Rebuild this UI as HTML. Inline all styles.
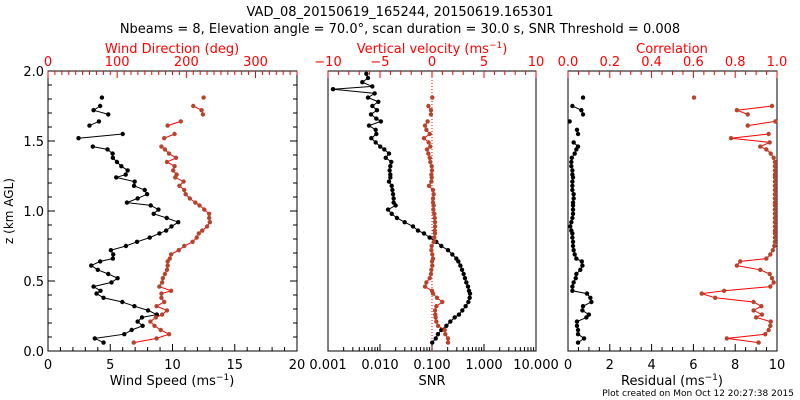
<!DOCTYPE html>
<html><head><meta charset="utf-8">
<style>
html,body{margin:0;padding:0;background:#fff;}
svg{display:block;font-family:"DejaVu Sans","Liberation Sans",sans-serif;}
</style></head>
<body>
<svg id="chart" width="800" height="400" viewBox="0 0 800 400" xmlns="http://www.w3.org/2000/svg">
<text x="400" y="16" font-size="13" text-anchor="middle">VAD_08_20150619_165244, 20150619.165301</text>
<text x="400" y="33" font-size="13" text-anchor="middle">Nbeams = 8, Elevation angle = 70.0°, scan duration = 30.0 s, SNR Threshold = 0.008</text>
<text transform="translate(13,211) rotate(-90)" font-size="12" text-anchor="middle">z (km AGL)</text>
<text x="172" y="53" font-size="13" fill="#f00" text-anchor="middle">Wind Direction (deg)</text>
<text x="432" y="53" font-size="13" fill="#f00" text-anchor="middle">Vertical velocity (ms<tspan font-size="9" dy="-5">−1</tspan><tspan dy="5">)</tspan></text>
<text x="672" y="53" font-size="13" fill="#f00" text-anchor="middle">Correlation</text>
<text x="172" y="385" font-size="13" text-anchor="middle">Wind Speed (ms<tspan font-size="9" dy="-5">−1</tspan><tspan dy="5">)</tspan></text>
<text x="432" y="385" font-size="13" text-anchor="middle">SNR</text>
<text x="672" y="385" font-size="13" text-anchor="middle">Residual (ms<tspan font-size="9" dy="-5">−1</tspan><tspan dy="5">)</tspan></text>
<text x="794" y="396" font-size="9" text-anchor="end">Plot created on Mon Oct 12 20:27:38 2015</text>
</svg>
<script>
const heights=[0.06,0.09,0.12,0.15,0.18,0.21,0.24,0.26,0.29,0.32,0.35,0.38,0.41,0.43,0.46,0.49,0.52,0.55,0.58,0.61,0.64,0.66,0.69,0.72,0.75,0.78,0.81,0.84,0.86,0.89,0.92,0.95,0.98,1.01,1.04,1.06,1.09,1.12,1.15,1.18,1.21,1.24,1.26,1.29,1.32,1.35,1.38,1.41,1.44,1.46,1.49,1.52,1.55,1.58,1.61,1.64,1.66,1.69,1.72,1.75,1.78,1.81,1.84,1.87,1.89,1.92,1.95,1.98];
const windSpeed=[4.46,3.76,6.13,6.72,7.6,7.2,7.55,8.74,8.04,6.94,5.97,4.46,3.9,4.22,3.66,5.1,5.59,4.84,4.0,3.47,4.19,5.21,5.24,5.05,6.26,7.15,8.17,8.95,9.49,9.92,10.46,9.54,8.49,8.87,8.25,6.34,7.2,7.96,7.77,6.91,6.96,5.48,6.24,6.4,5.89,5.54,5.21,5.19,4.78,3.6,null,2.45,6.0,null,3.33,4.09,null,4.84,3.66,4.19,null,4.33,null,null,null,null,null,null];
const windDir=[124,157,175,163,154,148,156,165,172,157,168,164,164,178,161,165,166,169,172,173,173,176,178,189,197,209,215,218,223,230,234,233,233,226,219,213,205,199,197,190,196,184,186,181,183,172,185,175,169,164,null,168,183,null,173,192,null,224,222,210,null,225,null,null,null,null,null,null];
const snr=[0.101,0.118,0.130,0.151,0.189,0.225,0.273,0.330,0.383,0.444,0.500,0.530,0.538,0.515,0.492,0.457,0.431,0.406,0.378,0.351,0.321,0.294,0.246,0.203,0.151,0.121,0.0902,0.0702,0.0538,0.0431,0.0298,0.0212,0.0168,0.0143,0.0200,0.0183,0.0183,0.0178,0.0173,0.0168,0.0149,0.0158,0.0158,0.0153,0.0158,0.0165,0.0129,0.0149,0.0121,0.0101,0.00826,0.00681,0.00850,0.00826,0.00614,0.0104,0.00850,0.00671,0.00875,0.00712,0.00929,0.00588,0.00789,0.00125,0.00712,0.00457,0.00588,0.00546];
const wVel=[1.54,1.54,1.28,1.22,0.58,0.42,0.35,0.32,0.29,0.42,0.99,0.48,0.10,0.00,-0.67,-0.54,-0.22,-0.10,-0.06,0.03,0.00,0.10,0.03,-0.06,-0.03,0.19,0.22,0.29,0.26,0.29,0.29,0.26,0.22,0.13,0.16,0.10,0.10,0.16,0.10,-0.29,-0.06,-0.03,-0.06,0.00,-0.03,-0.16,-0.22,-0.35,-0.48,-0.16,-0.32,-0.77,-0.22,-0.54,-0.67,-0.42,null,-0.10,-0.10,-0.35,null,0.03,null,null,null,null,null,null];
const residual=[0.48,0.77,0.48,0.48,0.43,0.43,0.88,1.0,0.69,0.72,1.12,1.07,0.91,0.21,0.21,0.27,0.37,0.40,0.59,0.69,0.66,0.40,0.32,0.27,0.24,0.24,0.21,0.21,0.16,0.11,0.16,0.21,0.24,0.24,0.24,0.24,0.27,0.27,0.21,0.21,0.21,0.24,0.21,0.21,0.16,0.16,0.18,0.32,0.40,0.48,0.27,null,0.48,0.43,null,0.08,null,0.72,0.64,0.21,null,0.72,null,null,null,null,null,null];
const correlation=[0.912,0.76,0.944,0.96,0.968,0.97,0.90,0.928,0.888,0.925,0.888,0.704,0.64,0.747,0.968,0.984,0.976,0.965,0.92,0.808,0.824,0.949,0.968,0.98,0.987,0.99,0.99,0.99,0.99,0.99,0.99,0.99,0.99,0.99,0.99,0.99,0.99,0.99,0.99,0.99,0.99,0.99,0.99,0.99,0.99,0.99,0.984,0.97,0.949,0.92,0.965,0.78,0.96,null,0.86,0.992,null,0.86,0.808,0.976,null,0.603,null,null,null,null,null,null];
const speedTicks=[0,5,10,15,20], dirTicks=[0,100,200,300], velTicks=[-10,-5,0,5,10];
const snrTickLabels=["0.001","0.010","0.100","1.000","10.000"], residTicks=[0,2,4,6,8,10], corrTicks=["0.0","0.2","0.4","0.6","0.8","1.0"];
const zTickLabels=["0.0","0.5","1.0","1.5","2.0"];

const NS="http://www.w3.org/2000/svg", svg=document.getElementById('chart');
const Y0=351,Y1=71;
const yS=z=>Y0-(z/2)*(Y0-Y1);
function mk(tag,attrs,name){const e=document.createElementNS(NS,tag);for(const k in attrs)e.setAttribute(k,attrs[k]);


svg.appendChild(e);return e;}
const panels=[{x0:48,x1:297},{x0:328,x1:536},{x0:568,x1:777}];
panels.forEach((p,i)=>mk('rect',{x:p.x0,y:Y1,width:p.x1-p.x0,height:Y0-Y1,fill:'none',stroke:'#000','stroke-width':1},'panel-frame-'+(i+1)));
const lin=(p,a,b)=>v=>p.x0+(v-a)/(b-a)*(p.x1-p.x0);
const sx1=lin(panels[0],0,20), dx1=lin(panels[0],0,360);
const lx2=v=>panels[1].x0+(Math.log10(v)+3)/4*(panels[1].x1-panels[1].x0), vx2=lin(panels[1],-10,10);
const rx3=lin(panels[2],0,10), cx3=lin(panels[2],0,1);
function tick(x,y1,y2,col,name){mk('line',{x1:x,x2:x,y1:y1,y2:y2,stroke:col,'stroke-width':1},name);}
function label(x,y,t,col,name){const e=mk('text',{x:x,y:y,'font-size':13,fill:col,'text-anchor':'middle'},name);e.textContent=t;}
for(let k=0;k<=20;k++){const y=yS(k/10),L=k%5==0?7:4;
mk('line',{x1:48,x2:48+L,y1:y,y2:y,stroke:'#000'},'y-tick');mk('line',{x1:297-L,x2:297,y1:y,y2:y,stroke:'#000'},'y-tick-right');}
zTickLabels.forEach((t,i)=>{const e=mk('text',{x:44,y:yS(i*0.5)+5,'font-size':13,'text-anchor':'end'},'y-tick-label');e.textContent=t;});
for(let v=0;v<=20;v++)tick(sx1(v),Y0,Y0-(v%5==0?7:4),'#000','speed-tick');
speedTicks.forEach(v=>label(sx1(v),369,String(v),'#000','speed-tick-label'));
for(let v=0;v<=360;v+=10)tick(dx1(v),Y1,Y1+(v%100==0?7:4),'#f00','direction-tick');
dirTicks.forEach(v=>label(dx1(v),66,String(v),'#f00','direction-tick-label'));
for(let d=-3;d<=1;d++)for(let m=1;m<10;m++){const v=m*Math.pow(10,d);if(v>10)break;tick(lx2(v),Y0,Y0-(m==1?7:4),'#000','snr-tick');}
tick(lx2(10),Y0,Y0-7,'#000','snr-tick');
snrTickLabels.forEach((t,i)=>label(lx2(Math.pow(10,i-3)),369,t,'#000','snr-tick-label'));
for(let v=-10;v<=10;v++)tick(vx2(v),Y1,Y1+(v%5==0?7:4),'#f00','velocity-tick');
velTicks.forEach(v=>label(vx2(v),66,v<0?'−'+(-v):String(v),'#f00','velocity-tick-label'));
mk('line',{x1:vx2(0),x2:vx2(0),y1:Y1,y2:Y0,stroke:'#f00','stroke-dasharray':'1,2'},'zero-velocity-line');
for(let v=0;v<=10;v+=0.5)tick(rx3(v),Y0,Y0-(v%2==0?7:4),'#000','residual-tick');
residTicks.forEach(v=>label(rx3(v),369,String(v),'#000','residual-tick-label'));
for(let v=0;v<=20;v++)tick(cx3(v/20),Y1,Y1+(v%4==0?7:4),'#f00','correlation-tick');
corrTicks.forEach((t,i)=>label(cx3(i*0.2),66,t,'#f00','correlation-tick-label'));
function series(vals,xf,lineCol,markCol,name){let segs=[],cur=[];
vals.forEach((v,i)=>{if(v==null){if(cur.length)segs.push(cur);cur=[];}else cur.push([xf(v),yS(heights[i])]);});
if(cur.length)segs.push(cur);
segs.forEach(s=>{if(s.length>1)mk('polyline',{points:s.map(p=>p.join(',')).join(' '),fill:'none',stroke:lineCol,'stroke-width':1},name+'-line');});
vals.forEach((v,i)=>{if(v!=null)mk('circle',{cx:xf(v),cy:yS(heights[i]),r:2.2,fill:markCol},name+'-point');});}
series(windSpeed,sx1,'#000','#000','wind-speed');
series(windDir,dx1,'#f00','#b4442c','wind-direction');
series(snr,lx2,'#000','#000','snr');
series(wVel,vx2,'#f00','#b4442c','vertical-velocity');
series(residual,rx3,'#000','#000','residual');
series(correlation,cx3,'#f00','#b4442c','correlation');
</script>
</body></html>
